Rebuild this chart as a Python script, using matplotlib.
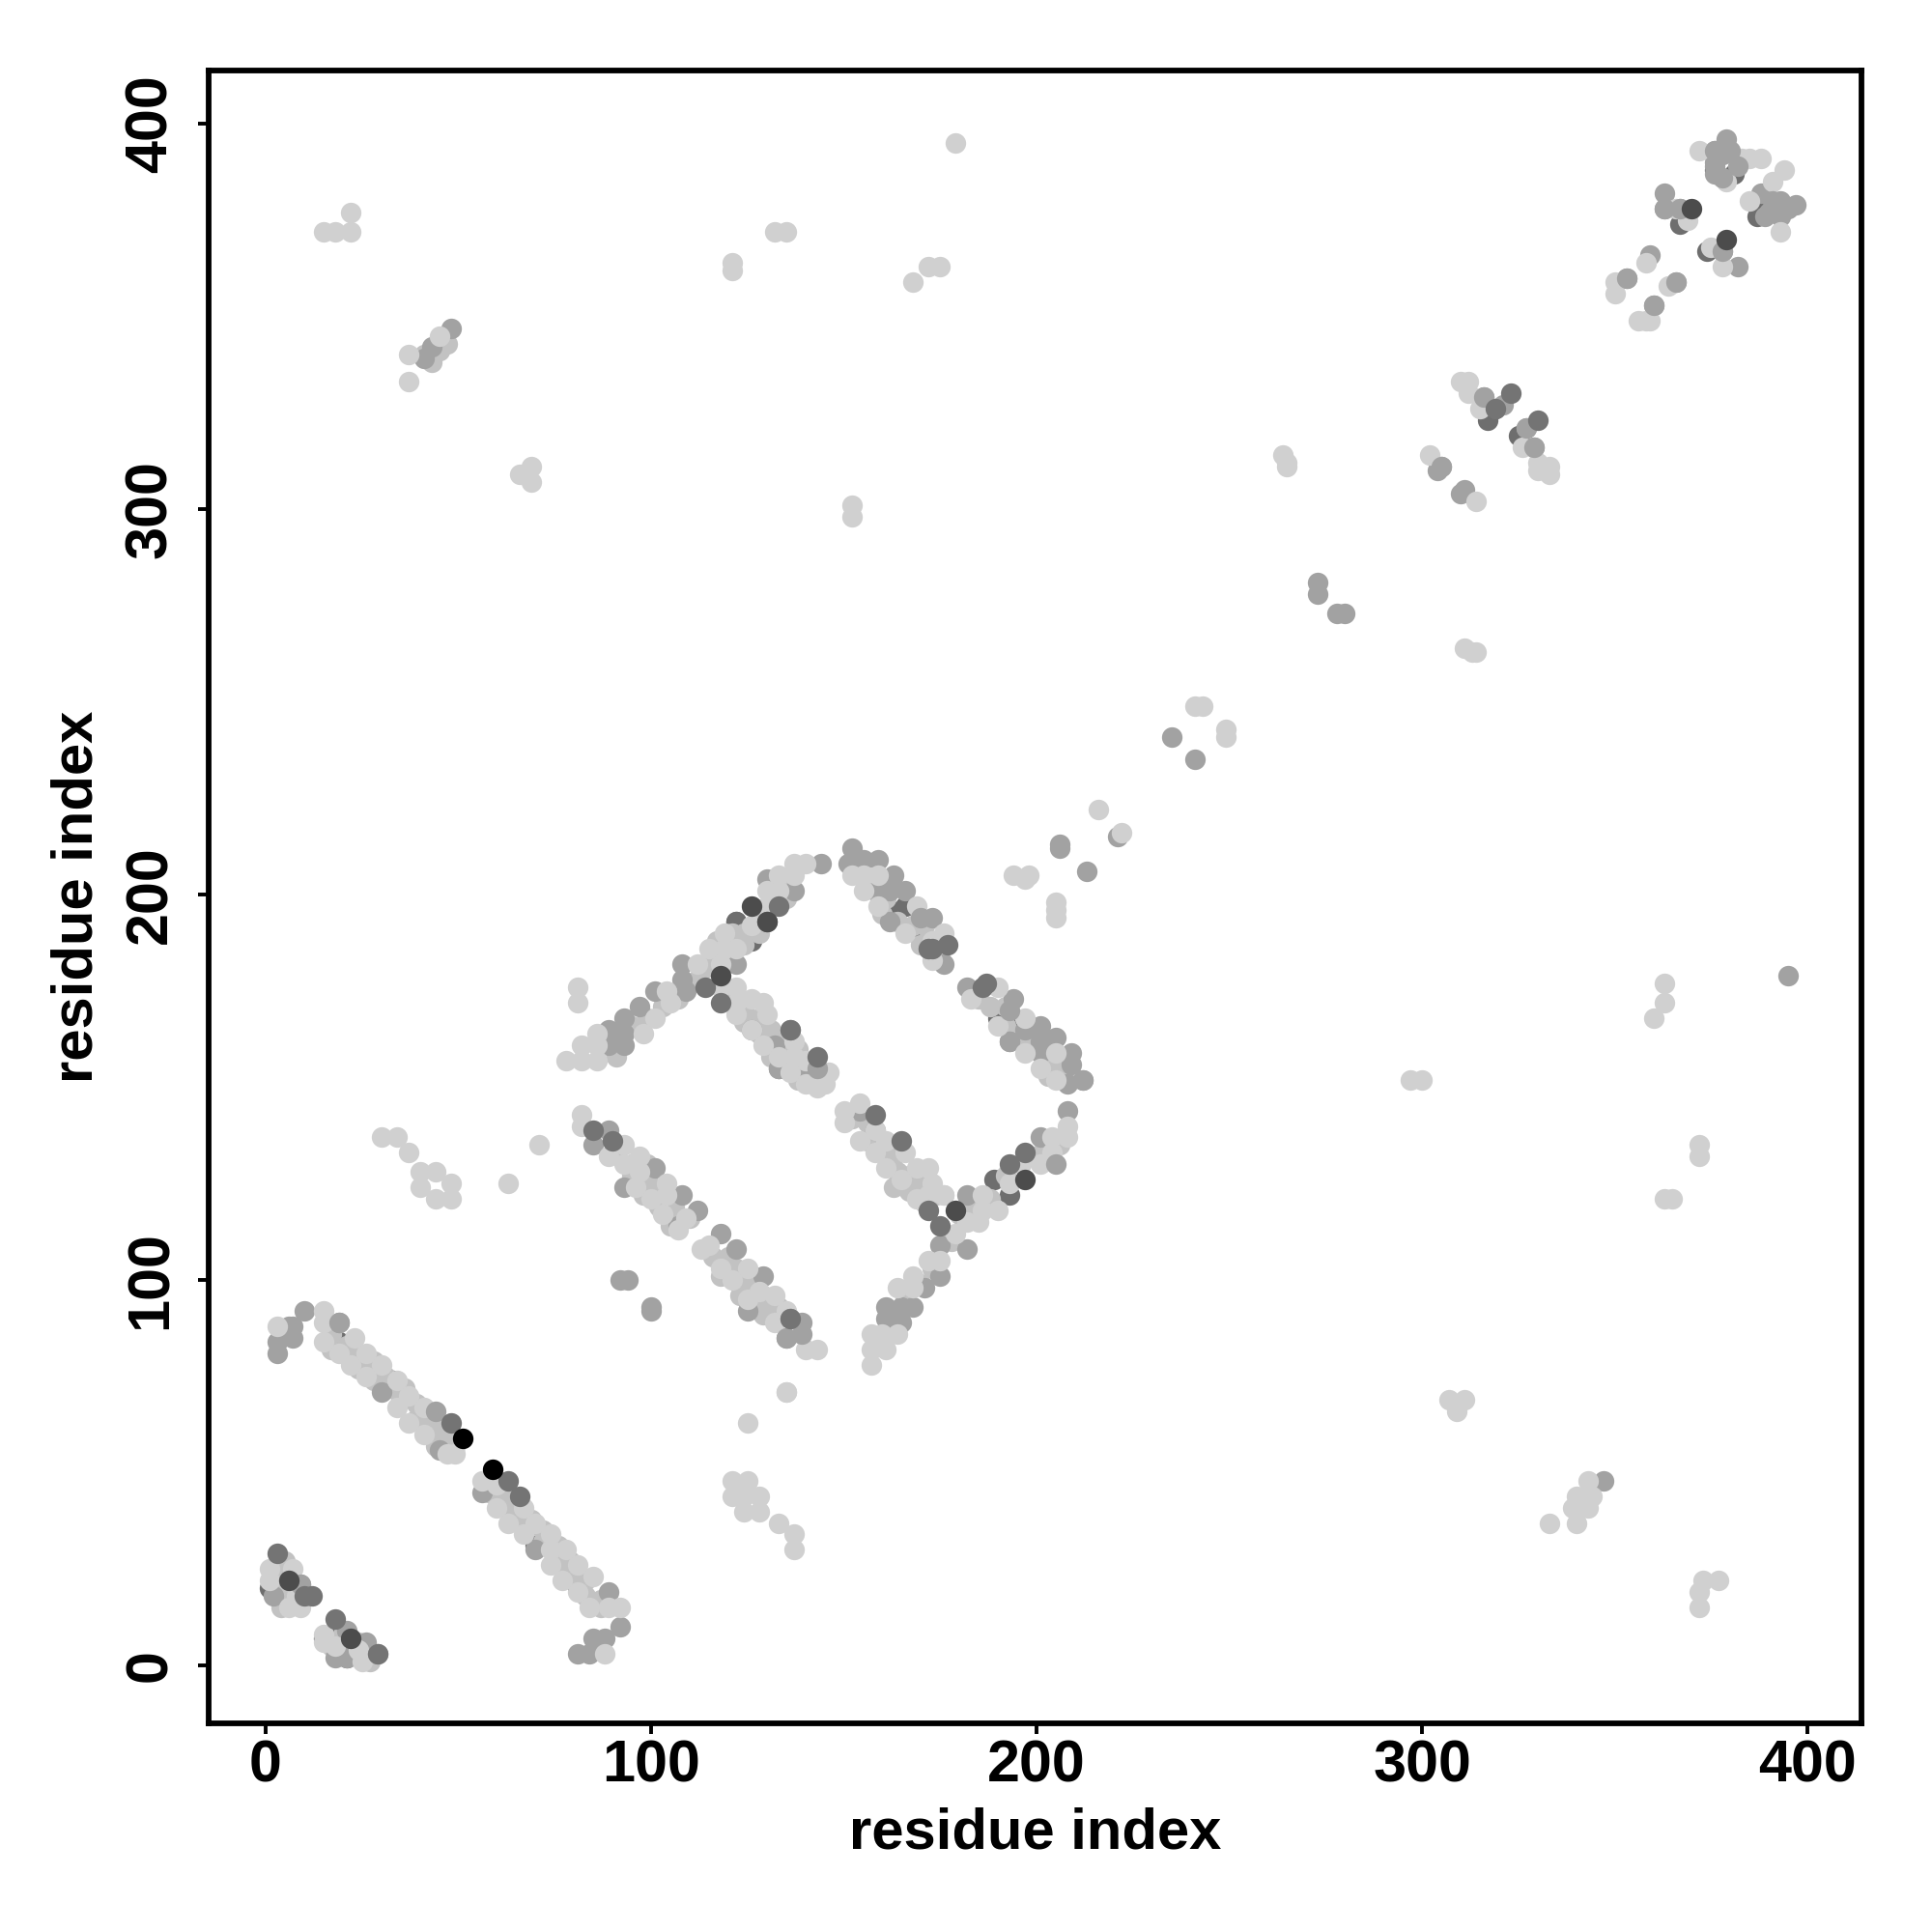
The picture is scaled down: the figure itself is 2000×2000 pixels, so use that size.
import matplotlib
matplotlib.use("Agg")
import matplotlib.pyplot as plt

# contact map points, one pair of lists per grey level
under_x = [121, 126, 122, 162, 166, 169, 33, 19, 30, 41, 44, 70, 74, 81, 45, 59, 62, 66, 190, 196, 197, 189, 193, 122, 15, 18, 21, 1, 6, 387, 388, 381, 376, 367, 374, 317, 319, 325]
under_y = [188, 188, 193, 196, 197, 190, 74, 84, 75, 66, 62, 31, 32, 20, 59, 46, 43, 40, 168, 166, 162, 126, 122, 193, 7, 7, 2, 20, 18, 376, 379, 387, 388, 374, 367, 323, 326, 319]

# stripes are about three points wide, this pale layer fills them in
fill_x = [17, 17, 21, 23, 24, 28, 28, 31, 32, 36, 35, 39, 39, 43, 43, 46, 47, 49, 44, 47,
          58, 61, 62, 64, 65, 69, 68, 72, 72, 76, 76, 79, 79, 83, 83, 87, 87, 82,
          3, 4, 5, 4, 7, 8, 5, 17, 20, 23, 20, 26, 27, 24,
          91, 95, 99, 103, 107, 112, 114, 116, 117, 121, 124, 128, 128, 132, 135, 135, 128, 124, 118,
          120, 124, 128, 124, 128, 131, 134, 131, 135, 138, 141, 142, 138, 133,
          91, 95, 95, 99, 99, 98, 102, 106, 105, 110, 102, 106,
          116, 120, 118, 122, 123, 127, 127, 130, 133, 133, 129, 123, 129,
          157, 161, 160, 164, 168, 171, 170, 175, 175, 174,
          185, 188, 192, 192, 195, 199, 199, 203, 203, 206, 207, 203,
          163, 166, 170, 173, 178, 180, 184, 188, 192, 199, 202, 206,
          152, 156, 156, 160, 163, 164, 167, 170, 171, 174, 167, 163,
          41, 45, 47, 43]
fill_y = [86, 82, 83, 81, 77, 79, 74, 75, 72, 72, 69, 68, 64, 64, 60, 59, 57, 57, 57, 62,
          45, 44, 41, 44, 38, 38, 36, 35, 32, 31, 27, 27, 23, 22, 18, 17, 15, 22,
          25, 22, 18, 15, 20, 16, 27, 5, 5, 3, 8, 3, 1, 6,
          158, 166, 168, 171, 173, 178, 181, 183, 188, 190, 190, 193, 196, 198, 203, 199, 190, 187, 184,
          174, 170, 168, 167, 164, 165, 162, 158, 158, 160, 153, 151, 152, 155,
          133, 130, 127, 130, 126, 122, 123, 119, 114, 116, 119, 116,
          106, 106, 101, 103, 99, 99, 94, 93, 93, 91, 96, 96, 91,
          203, 199, 195, 193, 192, 192, 187, 187, 184, 188,
          173, 171, 171, 166, 163, 164, 160, 160, 156, 155, 153, 153,
          91, 95, 99, 103, 110, 117, 119, 121, 127, 132, 134, 135,
          142, 141, 136, 134, 132, 128, 127, 125, 120, 122, 123, 124,
          340, 341, 343, 338]

mid_x = [7, 6, 7, 3, 3, 10, 19, 30, 45, 56, 70, 89, 92, 85, 88, 81, 84, 2, 9, 21, 26, 18, 21,
         89, 93, 93, 93, 89, 97, 101, 109, 108, 108, 122, 130, 137, 144, 133, 126, 85, 89, 93, 101, 108, 112, 107, 118, 122, 129, 125, 139, 135, 132, 133, 143, 139, 92, 94, 100, 100,
         152, 151, 155, 159, 158, 163, 162, 166, 162, 173, 176, 182, 193, 194, 197, 201, 193, 201, 201, 205, 209, 209, 208, 212,
         161, 161, 165, 165, 168, 171, 175, 175, 182, 182, 208, 201, 154, 158,
         48, 43, 41, 273, 273, 280, 278, 235, 241, 221, 213, 206, 206, 395, 347,
         379, 376, 376, 376, 388, 389, 393, 397, 393, 363, 363, 367, 378, 382, 359, 353, 366, 360, 316, 321, 327, 329, 305, 304, 311, 310]
mid_y = [88, 88, 85, 84, 81, 92, 89, 71, 56, 45, 30, 19, 10, 7, 7, 3, 3, 18, 21, 9, 6, 2, 2,
         165, 161, 164, 168, 161, 171, 175, 175, 182, 178, 182, 204, 201, 208, 155, 165, 135, 139, 124, 129, 122, 118, 114, 112, 108, 101, 92, 89, 85, 161, 155, 155, 154, 100, 100, 92, 93,
         212, 208, 209, 209, 201, 205, 201, 201, 193, 194, 182, 176, 162, 173, 165, 166, 162, 162, 159, 163, 159, 156, 151, 152,
         90, 93, 93, 89, 93, 98, 101, 109, 108, 122, 144, 137, 144, 139,
         347, 342, 339, 281, 278, 273, 273, 241, 235, 215, 206, 213, 212, 179, 48,
         396, 393, 390, 387, 382, 376, 380, 379, 376, 382, 378, 378, 367, 363, 366, 360, 359, 353, 329, 327, 321, 316, 311, 310, 305, 304]

light_x = [3, 15, 15, 15, 19, 23, 22, 26, 26, 30, 34, 34, 37, 37, 41, 41, 49, 47, 56, 60, 60, 67, 63, 70, 67, 74, 74, 78, 74, 77, 81, 81, 85, 84, 89, 92, 88, 1, 1, 8, 7, 6, 9, 15, 15, 18, 24, 25,
           78, 82, 86, 82, 86, 86, 98, 101, 105, 104, 112, 115, 118, 119, 119, 122, 126, 130, 130, 133, 133, 137, 137, 140, 81, 81,
           118, 122, 122, 122, 126, 129, 130, 126, 129, 133, 136, 137, 146, 145, 140, 143, 137, 140,
           82, 82, 89, 93, 93, 97, 97, 96, 100, 104, 104, 103, 107, 109, 113, 115, 118, 125, 121, 125, 128, 132, 132, 135, 140, 143, 135,
           152, 155, 155, 159, 159, 166, 169, 176, 173, 173,
           190, 183, 190, 197, 197, 201, 205, 205, 157, 157, 157, 161, 164, 160, 164, 168, 168, 172, 175, 179, 176, 182, 185, 186, 190, 186, 193, 196, 201, 204, 204, 208, 208,
           150, 150, 154, 154, 158, 158, 161, 166, 161, 165, 169, 172, 169, 173, 172, 176,
           15, 18, 22, 22, 37, 37, 45, 66, 69, 69, 121, 121, 132, 135, 168, 172, 175, 179, 152, 152, 264, 265, 265,
           311, 313, 314, 241, 243, 249, 249, 216, 222, 205, 205, 205, 194, 197, 198, 297, 300,
           363, 363, 360, 372, 372, 363, 365, 307, 311, 309, 333, 340, 339, 343, 340, 344, 343, 372, 372, 373, 377,
           71, 63, 30, 34, 37, 40, 44, 40, 44, 48, 48, 125, 135, 137, 137, 133, 121, 125, 121, 124, 128, 124, 128,
           372, 388, 383, 385, 379, 394, 391, 385, 393, 366, 369, 375, 378, 358, 350, 350, 364, 356, 358, 359, 310, 312, 312, 315, 326, 330, 333, 333, 330, 302, 314]
light_y = [88, 92, 89, 84, 81, 85, 78, 81, 75, 78, 74, 67, 70, 63, 67, 60, 55, 55, 48, 47, 41, 41, 37, 37, 34, 34, 30, 30, 26, 22, 26, 19, 23, 15, 15, 15, 3, 25, 22, 18, 25, 15, 15, 8, 6, 5, 4, 1,
           157, 157, 157, 161, 161, 164, 164, 168, 172, 175, 182, 186, 182, 186, 190, 186, 192, 197, 201, 201, 205, 205, 208, 208, 176, 172,
           176, 176, 172, 169, 173, 172, 169, 165, 161, 158, 154, 162, 154, 151, 151, 150, 158, 157,
           143, 140, 132, 135, 130, 132, 128, 124, 121, 125, 122, 117, 113, 116, 108, 109, 103, 103, 100, 95, 97, 96, 89, 92, 82, 82, 71,
           205, 205, 201, 205, 197, 190, 197, 190, 183, 188,
           176, 173, 166, 168, 159, 155, 159, 152, 86, 82, 78, 82, 86, 86, 98, 98, 101, 105, 105, 112, 122, 115, 115, 122, 118, 118, 125, 130, 130, 133, 137, 137, 140,
           144, 141, 146, 136, 139, 133, 136, 133, 129, 126, 129, 129, 121, 125, 122, 122,
           372, 372, 372, 377, 340, 333, 345, 309, 311, 307, 362, 364, 372, 372, 359, 363, 363, 395, 298, 301, 314, 312, 311,
           264, 263, 263, 249, 249, 243, 241, 222, 216, 198, 196, 194, 205, 204, 205, 152, 152,
           177, 172, 168, 135, 132, 121, 121, 69, 69, 66, 37, 37, 41, 41, 44, 44, 48, 15, 19, 22, 22,
           135, 125, 137, 137, 133, 128, 128, 124, 121, 121, 125, 63, 71, 34, 30, 37, 48, 48, 44, 44, 44, 40, 40,
           393, 391, 391, 391, 385, 388, 385, 380, 372, 378, 375, 368, 363, 364, 359, 356, 358, 349, 349, 349, 333, 333, 330, 326, 316, 312, 311, 309, 310, 314, 302]

top_mid_x = [19, 44, 9, 29, 136, 139, 135, 193, 170, 172, 205, 212, 136, 143, 376, 378, 316, 327, 329, 305, 353, 366, 360,
             378, 376, 380, 382, 378, 391, 390, 393, 395, 363, 367]
top_mid_y = [89, 66, 21, 3, 90, 86, 85, 170, 194, 186, 130, 152, 165, 155, 393, 367, 329, 321, 316, 311, 360, 359, 353,
             392, 389, 393, 389, 386, 380, 377, 378, 378, 378, 378]

dark_x = [3, 48, 63, 66, 12, 10, 18, 29, 85, 90, 114, 118, 130, 133, 136, 143, 186, 172, 175, 193, 197, 165, 158, 177, 173, 172, 187, 323, 330, 319, 136]
dark_y = [29, 63, 48, 44, 18, 18, 12, 3, 139, 136, 176, 172, 193, 197, 165, 158, 176, 118, 114, 130, 133, 136, 143, 187, 186, 186, 177, 330, 323, 326, 90]

darker_x = [6, 22, 118, 126, 130, 179, 197, 370, 379]
darker_y = [22, 7, 179, 197, 193, 118, 126, 378, 370]

black_x = [51, 59]
black_y = [59, 51]

layers = [
    (under_x, under_y, "#6e6e6e"),
    (fill_x, fill_y, "#c2c2c2"),
    (mid_x, mid_y, "#a2a2a2"),
    (light_x, light_y, "#d0d0d0"),
    (top_mid_x, top_mid_y, "#a2a2a2"),
    (dark_x, dark_y, "#747474"),
    (darker_x, darker_y, "#4c4c4c"),
    (black_x, black_y, "#000000"),
]

plt.rcParams['font.family'] = ['Liberation Sans', 'DejaVu Sans']
plt.rcParams['font.weight'] = 'bold'

fig = plt.figure(figsize=(20, 20), dpi=100)
ax = fig.add_axes([0.108, 0.108, 0.8555, 0.8555])

for xs, ys, col in layers:
    ax.scatter(xs, ys, s=235, color=col, linewidths=0)

ax.set_xlim(-14.8, 414)
ax.set_ylim(-15, 413.8)
ax.set_xticks([0, 100, 200, 300, 400])
ax.set_yticks([0, 100, 200, 300, 400])
ax.tick_params(length=8, width=2.8, labelsize=44)
ax.tick_params(axis='x', pad=4)
ax.tick_params(axis='y', pad=14)
for lab in ax.get_yticklabels():
    lab.set_rotation(90)
    lab.set_va('center')
for s in ax.spines.values():
    s.set_linewidth(4.2)

ax.set_xlabel("residue index", fontsize=43, fontweight='bold', labelpad=9)
ax.set_ylabel("residue index", fontsize=43, fontweight='bold', labelpad=15)

plt.savefig("out.png", dpi=100)
